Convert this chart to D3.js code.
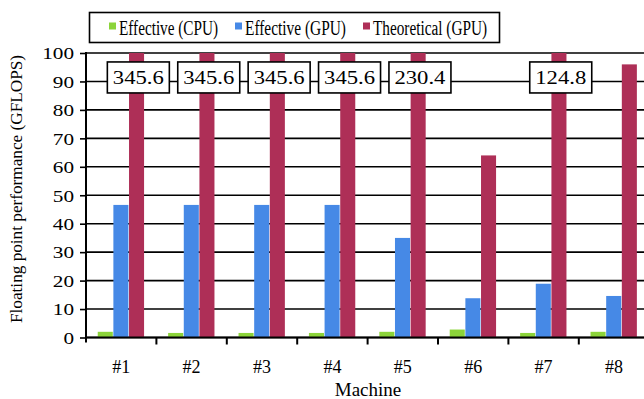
<!DOCTYPE html>
<html>
<head>
<meta charset="utf-8">
<script src="https://cdn.jsdelivr.net/npm/d3@7"></script>
<style>
  html, body { margin: 0; padding: 0; background: #fff; }
  svg { display: block; }
</style>
</head>
<body>
<svg id="chart" width="644" height="399"></svg>
<script>
// Machines on the x axis
const machines = ["#1", "#2", "#3", "#4", "#5", "#6", "#7", "#8"];
// Series names as shown in the legend
const seriesNames = ["Effective (CPU)", "Effective (GPU)", "Theoretical (GPU)"];
const seriesColors = ["#8cd43a", "#4689e6", "#ae2f57"];
// Floating point performance in GFLOPS per machine
const effectiveCPU = [2.0, 1.6, 1.6, 1.6, 2.0, 2.8, 1.6, 2.0];
const effectiveGPU = [46.6, 46.6, 46.6, 46.6, 35.0, 13.8, 18.9, 14.6];
const theoreticalGPU = [345.6, 345.6, 345.6, 345.6, 230.4, 64.0, 124.8, 96.0];
const yTicks = [0, 10, 20, 30, 40, 50, 60, 70, 80, 90, 100];

const seriesValues = [effectiveCPU, effectiveGPU, theoreticalGPU];
const yMax = 100;
const FONT = "'Liberation Serif', 'Times New Roman', serif";

const svg = d3.select("#chart");
const plot = { left: 86, top: 53, bottom: 337.5, step: 70.4 };
plot.right = plot.left + plot.step * machines.length;

const x = d3.scaleBand().domain(machines).range([plot.left, plot.right]).padding(0);
const xs = d3.scaleBand().domain(d3.range(seriesNames.length))
  .range([0, x.bandwidth()]).paddingInner(0).paddingOuter(0.75);
const y = d3.scaleLinear().domain([0, yMax]).range([plot.bottom, plot.top]);

svg.append("defs").append("clipPath").attr("id", "plot-clip")
  .append("rect")
  .attr("x", plot.left).attr("y", plot.top)
  .attr("width", plot.right - plot.left).attr("height", plot.bottom - plot.top);

// Horizontal gridlines
svg.append("g")
  .selectAll("line")
  .data(yTicks)
  .join("line")
  .attr("x1", plot.left).attr("x2", plot.right)
  .attr("y1", d => y(d)).attr("y2", d => y(d))
  .attr("stroke", "#000").attr("stroke-width", 1.6);

// Bars (values above the axis maximum are cut at the top)
const groups = svg.append("g").attr("clip-path", "url(#plot-clip)")
  .selectAll("g")
  .data(machines)
  .join("g")
  .attr("transform", d => `translate(${x(d)},0)`);

groups.selectAll("rect")
  .data((m, i) => seriesValues.map((vals, s) => ({ s, v: vals[i] })))
  .join("rect")
  .attr("x", d => xs(d.s))
  .attr("width", xs.bandwidth() - 0.6)
  .attr("y", d => y(Math.min(d.v, yMax)))
  .attr("height", d => y(0) - y(Math.min(d.v, yMax)))
  .attr("fill", d => seriesColors[d.s]);

// Value boxes for bars that exceed the axis range
const over = machines.map((m, i) => ({ m, v: theoreticalGPU[i] })).filter(d => d.v > yMax);
const boxW = 62, boxH = 31;
const boxes = svg.append("g").selectAll("g")
  .data(over)
  .join("g")
  .attr("transform", d => `translate(${x(d.m) + xs(2) + xs.bandwidth() / 2 + 1.5},${y(90) - 4})`);
boxes.append("rect")
  .attr("x", -boxW / 2).attr("y", -boxH / 2)
  .attr("width", boxW).attr("height", boxH)
  .attr("fill", "#fff").attr("stroke", "#000").attr("stroke-width", 1.6);
boxes.append("text")
  .style("font-family", FONT)
  .attr("text-anchor", "middle")
  .attr("dy", "0.35em")
  .attr("font-size", 19)
  .attr("textLength", 51)
  .attr("lengthAdjust", "spacingAndGlyphs")
  .text(d => d3.format(".1f")(d.v));

// Y axis
const yAxis = svg.append("g")
  .attr("transform", `translate(${plot.left},0)`)
  .call(d3.axisLeft(y).tickValues(yTicks).tickSize(6).tickPadding(6).tickFormat(d3.format("d")));
yAxis.select(".domain").remove();
yAxis.selectAll(".tick line").attr("stroke", "#000").attr("stroke-width", 1.6);
yAxis.selectAll(".tick text")
  .style("font-family", FONT)
  .attr("fill", "#000")
  .attr("font-size", 17)
  .attr("dy", "0.34em")
  .attr("textLength", d => String(d).length * 10.6)
  .attr("lengthAdjust", "spacingAndGlyphs");
svg.append("line")
  .attr("x1", plot.left).attr("x2", plot.left)
  .attr("y1", plot.top - 1).attr("y2", plot.bottom + 5)
  .attr("stroke", "#000").attr("stroke-width", 2);

// X axis
const xAxis = svg.append("g")
  .attr("transform", `translate(0,${plot.bottom})`)
  .call(d3.axisBottom(x).tickSize(0).tickPadding(23));
xAxis.select(".domain").remove();
xAxis.selectAll(".tick text")
  .style("font-family", FONT)
  .attr("fill", "#000")
  .attr("font-size", 18);
svg.append("g").selectAll("line")
  .data(machines)
  .join("line")
  .attr("x1", d => x(d) + x.bandwidth()).attr("x2", d => x(d) + x.bandwidth())
  .attr("y1", plot.bottom).attr("y2", plot.bottom + 7)
  .attr("stroke", "#000").attr("stroke-width", 2);
svg.append("line")
  .attr("x1", plot.left - 1).attr("x2", plot.right)
  .attr("y1", plot.bottom).attr("y2", plot.bottom)
  .attr("stroke", "#000").attr("stroke-width", 2.2);

// Axis titles
svg.append("text")
  .style("font-family", FONT)
  .attr("x", 368).attr("y", 396)
  .attr("text-anchor", "middle").attr("font-size", 19)
  .text("Machine");
svg.append("text")
  .style("font-family", FONT)
  .attr("transform", `translate(22,189) rotate(-90)`)
  .attr("text-anchor", "middle").attr("font-size", 16)
  .attr("textLength", 268)
  .attr("lengthAdjust", "spacingAndGlyphs")
  .text("Floating point performance (GFLOPS)");

// Legend
const legend = svg.append("g");
legend.append("rect")
  .attr("x", 89.5).attr("y", 12.5).attr("width", 410).attr("height", 30)
  .attr("fill", "#fff").attr("stroke", "#000").attr("stroke-width", 1.6);
const legendX = [109, 235, 363];
const legendW = [99, 101, 114];
const items = legend.selectAll("g.item")
  .data(seriesNames)
  .join("g")
  .attr("class", "item")
  .attr("transform", (d, i) => `translate(${legendX[i]},0)`);
items.append("rect")
  .attr("x", 0).attr("y", 22.5).attr("width", 7).attr("height", 7)
  .attr("fill", (d, i) => seriesColors[i]);
items.append("text")
  .style("font-family", FONT)
  .attr("x", 10).attr("y", 34.5)
  .attr("font-size", 20)
  .attr("textLength", (d, i) => legendW[i])
  .attr("lengthAdjust", "spacingAndGlyphs")
  .text(d => d);
</script>
</body>
</html>
